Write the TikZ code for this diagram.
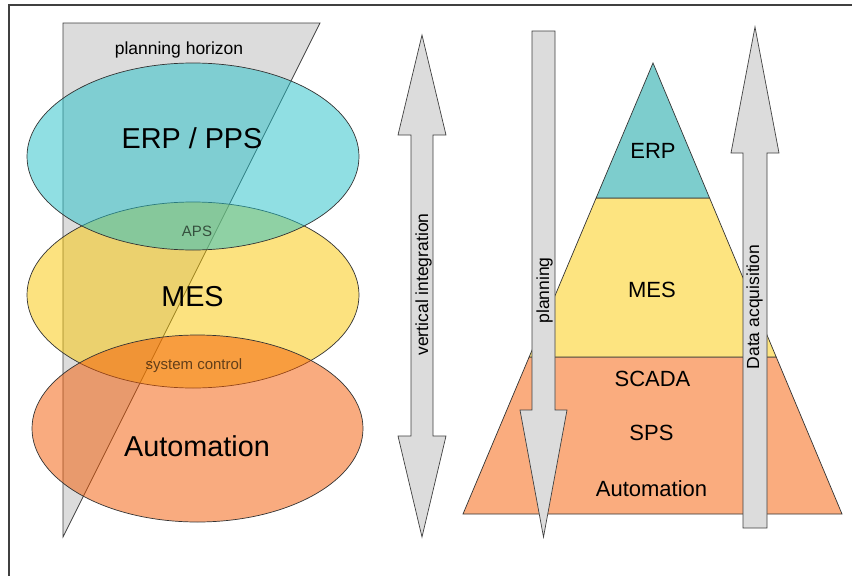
\documentclass[tikz,border=0pt]{standalone}
\usepackage{fontspec}
\setmainfont{Liberation Sans}
\usetikzlibrary{calc}

\definecolor{erpfill}{RGB}{35,193,201}
\definecolor{mesfill}{RGB}{251,199,1}
\definecolor{autofill}{RGB}{245,89,0}
\definecolor{shadegray}{RGB}{220,220,220}
\definecolor{pyrerp}{RGB}{125,205,205}
\definecolor{pyrmes}{RGB}{253,228,128}
\definecolor{pyrauto}{RGB}{250,172,126}

\begin{document}
\begin{tikzpicture}[x=1pt,y=-1pt,
  frameline/.style={draw=black!75, line width=1.3pt},
  outline/.style={draw=black!80, line width=0.7pt, line join=miter},
  band/.style={outline, fill opacity=0.5, draw opacity=1},
  grayshape/.style={draw=black!75, fill=shadegray, line width=0.7pt, line join=miter},
  bigtext/.style={font=\fontsize{28.8}{32}\selectfont, anchor=base},
  midtext/.style={font=\fontsize{22}{25}\selectfont, anchor=base},
  smalltext/.style={font=\fontsize{15}{18}\selectfont, anchor=base, text opacity=0.6},
  sidetext/.style={font=\fontsize{17.5}{20}\selectfont, anchor=base, rotate=90},
]
\useasboundingbox (0,0) rectangle (852,576);
\fill[white] (0,0) rectangle (852,576);
\draw[frameline] (9,576) -- (9,5) -- (852,5);

% planning horizon wedge
\draw[grayshape] (63,23) -- (320,23) -- (63,537) -- cycle;
\node[font=\fontsize{17.5}{20}\selectfont, anchor=base] (horizon) at (179,54) {planning horizon};

% overlapping layers
\draw[band, fill=mesfill] (193,295) ellipse [x radius=166pt, y radius=93pt];
\draw[band, fill=erpfill] (193,156.5) ellipse [x radius=166pt, y radius=93.5pt];
\draw[band, fill=autofill] (197.5,428.5) ellipse [x radius=165.5pt, y radius=93.5pt];

\node[bigtext] (erppps) at (192,148) {ERP / PPS};
\node[smalltext] (aps) at (197,236.5) {APS};
\node[bigtext] (mesl) at (192.5,306.5) {MES};
\node[smalltext] (sysctl) at (194,369) {system control};
\node[bigtext] (autol) at (197,456.5) {Automation};

% vertical integration double arrow
\draw[grayshape] (422,35) -- (446,135) -- (433,135) -- (433,436) -- (446,436)
  -- (422,537) -- (398,436) -- (411,436) -- (411,135) -- (398,135) -- cycle;
\node[sidetext] (vint) at (428,284.5) {vertical integration};

% automation pyramid
\coordinate (apex) at (653,63);
\coordinate (bl) at (463,514);
\coordinate (br) at (842,514);
\coordinate (erpl) at ($(apex)!0.2993!(bl)$);
\coordinate (erpr) at ($(apex)!0.2993!(br)$);
\coordinate (mesl) at ($(apex)!0.6519!(bl)$);
\coordinate (mesr) at ($(apex)!0.6519!(br)$);
\draw[outline, fill=pyrauto] (bl) -- (mesl) -- (mesr) -- (br) -- cycle;
\draw[outline, fill=pyrmes] (mesl) -- (erpl) -- (erpr) -- (mesr) -- cycle;
\draw[outline, fill=pyrerp] (apex) -- (erpl) -- (erpr) -- cycle;

\node[midtext] (perp) at (653,158) {ERP};
\node[midtext] (pmes) at (652,297) {MES};
\node[midtext] (pscada) at (652.5,386) {SCADA};
\node[midtext] (psps) at (651.5,440) {SPS};
\node[midtext] (pauto) at (651.5,496.5) {Automation};

% planning arrow (down)
\draw[grayshape] (532,31) -- (555,31) -- (555,410) -- (567,410) -- (543.5,537)
  -- (520,410) -- (532,410) -- cycle;
\node[sidetext] (plan) at (549,290.5) {planning};

% data acquisition arrow (up)
\draw[grayshape] (755,27) -- (779,153) -- (767,153) -- (767,528) -- (743,528)
  -- (743,153) -- (731,153) -- cycle;
\node[sidetext] (daq) at (759,307) {Data acquisition};
\end{tikzpicture}
\end{document}
